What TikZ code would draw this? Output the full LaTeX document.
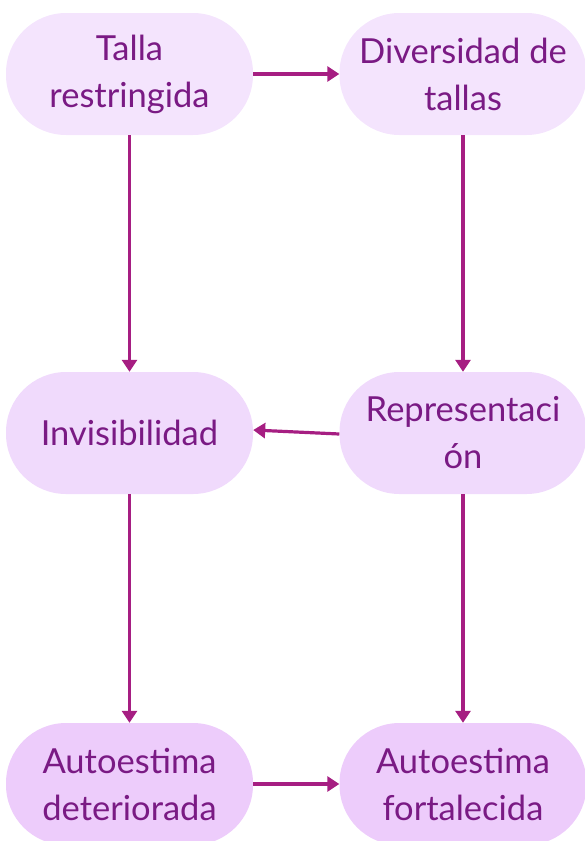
\documentclass[tikz,border=0pt]{standalone}
\usepackage{fontspec}
\setmainfont{Lato}
\usepackage{tikz}
\usetikzlibrary{positioning}
\usetikzlibrary{arrows.meta}
\usepackage{xcolor}

\definecolor{txtpurple}{HTML}{7A1A84}
\definecolor{linkpurple}{HTML}{A61E82}
\definecolor{filltop}{HTML}{F4E4FD}
\definecolor{fillmid}{HTML}{F0DAFC}
\definecolor{fillbot}{HTML}{EDCCFB}

\begin{document}
\begin{tikzpicture}[
		x=1pt, y=-1pt,
		% Style definitions
		pill/.style={rectangle, rounded corners=60pt, minimum width=247pt, minimum height=122pt, inner sep=0pt, align=center, text=txtpurple, font=\fontsize{34.5}{47}\selectfont},
		arrow/.style={-{Triangle[length=12pt, width=15pt]}, line width=3.2pt, linkpurple},
		]
		% === Fixed canvas ===
		\useasboundingbox (0,0) rectangle (585,841);

		% === ROW 1 ===
		\node[pill, fill=filltop] (talla) at (129.5,74) {Talla\\restringida};
		\node[pill, fill=filltop] (diversidad) at (463,74) {Diversidad de\\tallas};

		% === ROW 2 ===
		\node[pill, fill=fillmid] (invis) at (129.5,433) {Invisibilidad};
		\node[pill, fill=fillmid] (repres) at (463,433) {Representaci\\ón};

		% === ROW 3 ===
		\node[pill, fill=fillbot] (deteriorada) at (129.5,784) {Autoestima\\deteriorada};
		\node[pill, fill=fillbot] (fortalecida) at (463,784) {Autoestima\\fortalecida};

		% === Connections ===
		\draw[arrow] (talla) -- (diversidad);
		\draw[arrow] (talla) -- (invis);
		\draw[arrow] (diversidad) -- (repres);
		\draw[arrow] ([yshift=-1pt]repres.west) -- ([yshift=3pt]invis.east);
		\draw[arrow] (invis) -- (deteriorada);
		\draw[arrow] (repres) -- (fortalecida);
		\draw[arrow] (deteriorada) -- (fortalecida);

	\end{tikzpicture}
\end{document}
